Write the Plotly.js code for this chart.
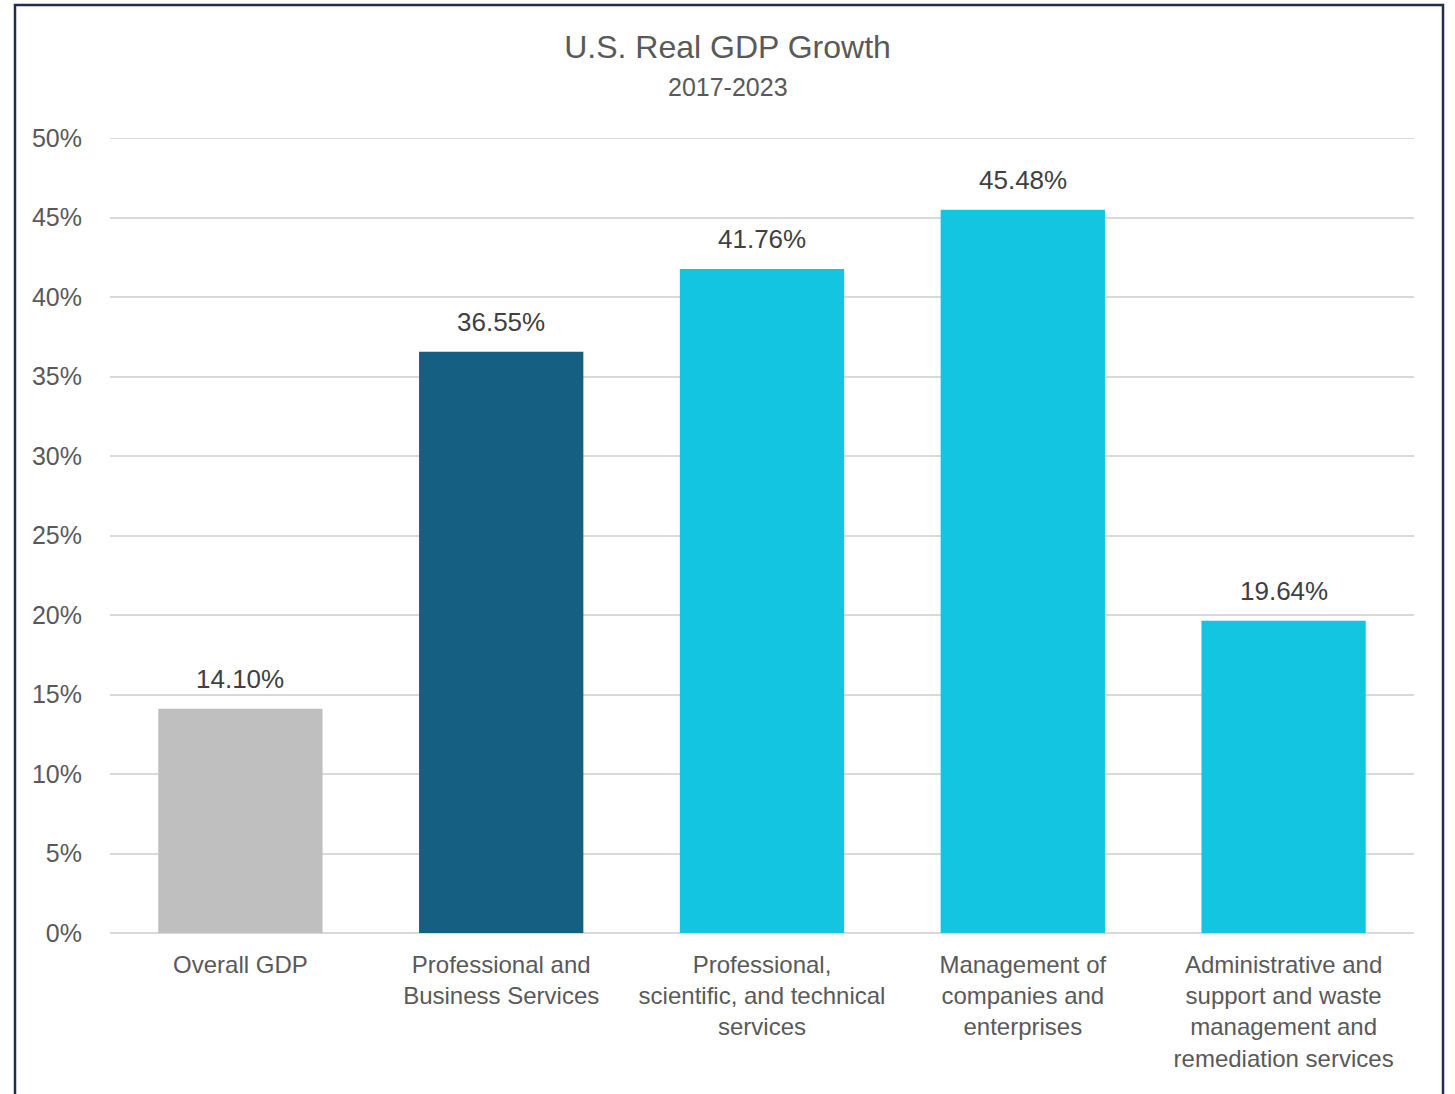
<!DOCTYPE html>
<html>
<head>
<meta charset="utf-8">
<script src="https://cdn.plot.ly/plotly-3.0.1.min.js"></script>
<style>
html,body{margin:0;padding:0;background:#fff;overflow:hidden;}
#chart{width:1455px;height:1094px;}
</style>
</head>
<body>
<div id="chart"></div>
<script>
const categories = [
  "Overall GDP",
  "Professional and<br>Business Services",
  "Professional,<br>scientific, and technical<br>services",
  "Management of<br>companies and<br>enterprises",
  "Administrative and<br>support and waste<br>management and<br>remediation services"
];
const growthPct = [14.10, 36.55, 41.76, 45.48, 19.64];
const valueLabels = ["14.10%", "36.55%", "41.76%", "45.48%", "19.64%"];
const barColors = ["#bfbfbf", "#156082", "#13c5e0", "#13c5e0", "#13c5e0"];
const yTickVals = [0, 5, 10, 15, 20, 25, 30, 35, 40, 45, 50];
const yTickText = ["0%", "5%", "10%", "15%", "20%", "25%", "30%", "35%", "40%", "45%", "50%"];
const titleText = "U.S. Real GDP Growth";
const subtitleText = "2017-2023";

const FONT = "Liberation Sans, Arial, sans-serif";
const yMax = yTickVals[yTickVals.length - 1];

const trace = {
  type: "bar",
  x: categories,
  y: growthPct,
  marker: {color: barColors, line: {width: 0}},
  hoverinfo: "none",
  showlegend: false
};

const annotations = categories.map((c, i) => ({
  x: c, y: growthPct[i], xref: "x", yref: "y",
  text: valueLabels[i], showarrow: false,
  yanchor: "bottom", yshift: 13,
  font: {family: FONT, size: 26, color: "#404040"}
}));
annotations.push({
  x: (728 - 110) / 1304, xref: "paper", xanchor: "center",
  y: (933 - 87) / 795, yref: "paper", yanchor: "middle",
  text: subtitleText, showarrow: false,
  font: {family: FONT, size: 25, color: "#595959"}
});

const layout = {
  width: 1455, height: 1094,
  margin: {l: 110, r: 41, t: 138, b: 161},
  paper_bgcolor: "#ffffff",
  plot_bgcolor: "#ffffff",
  bargap: 0.37,
  title: {
    text: titleText,
    font: {family: FONT, size: 32, color: "#595959"},
    x: 0.5, xanchor: "center",
    y: 0.957, yref: "container", yanchor: "middle"
  },
  xaxis: {
    type: "category",
    showgrid: false,
    showline: false,
    ticks: "",
    tickfont: {family: FONT, size: 24, color: "#595959"},
    ticklabelstandoff: 15,
    automargin: false
  },
  yaxis: {
    range: [0, yMax],
    tickvals: yTickVals,
    ticktext: yTickText,
    showgrid: true,
    gridcolor: "#d9d9d9",
    gridwidth: 2,
    zeroline: true,
    zerolinecolor: "#d9d9d9",
    zerolinewidth: 2,
    showline: false,
    ticks: "",
    tickfont: {family: FONT, size: 25, color: "#595959"},
    ticklabelstandoff: 27,
    automargin: false
  },
  annotations: annotations,
  shapes: [
    {
      type: "line", xref: "paper", yref: "y",
      x0: 0, x1: 1, y0: yMax, y1: yMax,
      line: {color: "#d9d9d9", width: 2},
      layer: "below"
    },
    {
      type: "rect", xref: "paper", yref: "paper",
      x0: (15 - 110) / 1304, x1: (1443 - 110) / 1304,
      y0: -0.3, y1: (933 - 5) / 795,
      line: {color: "#1f2d50", width: 2.5},
      fillcolor: "rgba(0,0,0,0)",
      layer: "above"
    }
  ]
};

Plotly.newPlot("chart", [trace], layout, {displayModeBar: false, staticPlot: true});
</script>
</body>
</html>
